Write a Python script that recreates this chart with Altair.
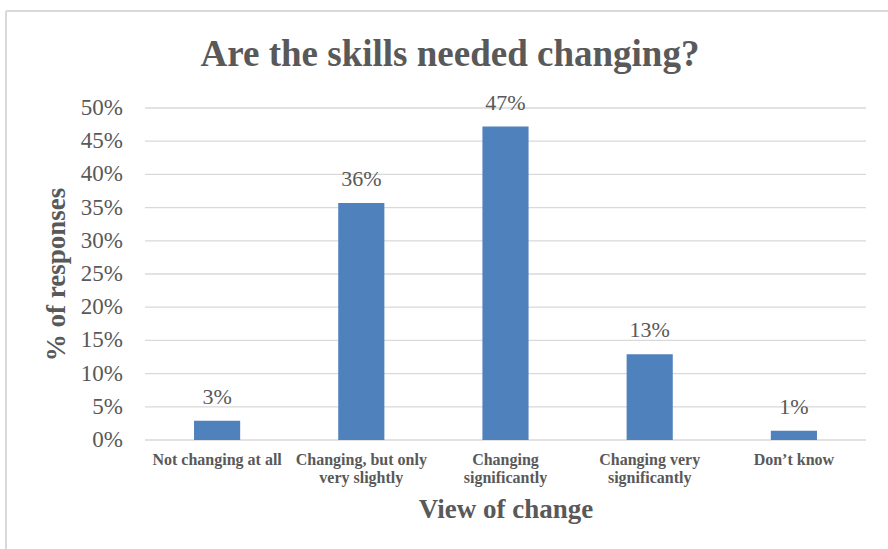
import altair as alt
import pandas as pd

categories = ["Not changing at all", "Changing, but only\nvery slightly", "Changing\nsignificantly",
              "Changing very\nsignificantly", "Don\u2019t know"]
values = [2.9, 35.7, 47.2, 12.9, 1.4]
labels = ["3%", "36%", "47%", "13%", "1%"]
tick_values = [0, 5, 10, 15, 20, 25, 30, 35, 40, 45, 50]
tick_labels = ["0%", "5%", "10%", "15%", "20%", "25%", "30%", "35%", "40%", "45%", "50%"]
title_text = ["Are the skills needed changing?"]

df = pd.DataFrame({"cat": categories, "val": values, "lab": labels})
ticks_df = pd.DataFrame({"val": tick_values, "tl": tick_labels})
FONT = "Liberation Serif"
GRAY = "#595959"

x = alt.X("cat:N", sort=categories,
          scale=alt.Scale(paddingInner=0.68, paddingOuter=0.34),
          axis=alt.Axis(title="View of change", labelAngle=0, labelExpr="split(datum.label, '\\n')",
                        labelFont=FONT, labelFontSize=16, labelFontWeight="bold", labelColor=GRAY,
                        labelPadding=11, labelLineHeight=18, ticks=False, domain=False,
                        labelOverlap=False, labelLimit=300,
                        titleFont=FONT, titleFontSize=27, titleFontWeight="bold", titleColor=GRAY,
                        titlePadding=11, labelBaseline="top"))
yaxis = alt.Axis(title="% of responses", labels=False, grid=False, ticks=False, domain=False,
                 titleFont=FONT, titleFontSize=27, titleFontWeight="bold", titleColor=GRAY,
                 titlePadding=75)
y = alt.Y("val:Q", scale=alt.Scale(domain=[0, 50]), axis=yaxis)

grid = alt.Chart(ticks_df).mark_rule(color="#D9D9D9", strokeWidth=1.3).encode(
    y=y, x=alt.value(0), x2=alt.value(721))
tick_text = alt.Chart(ticks_df).mark_text(font=FONT, fontSize=23, color=GRAY, align="right",
                                          baseline="middle").encode(
    y=y, x=alt.value(-22), text="tl:N")

bars = alt.Chart(df).mark_bar(color="#4F81BD").encode(x=x, y=y)
text = alt.Chart(df).mark_text(font=FONT, fontSize=22, color=GRAY, baseline="alphabetic", dy=-17).encode(
    x=x, y=y, text="lab:N")

title = alt.Chart(pd.DataFrame({"t": title_text})).mark_text(
    font=FONT, fontSize=37, fontWeight="bold", color=GRAY, baseline="alphabetic", align="center").encode(
    x=alt.value(305), y=alt.value(-42), text="t:N")

border = alt.Chart(df).mark_rule(color="#D9D9D9", strokeWidth=1.5).encode(
    x=alt.value(-139), x2=alt.value(760), y=alt.value(-97))
border2 = alt.Chart(df).mark_rule(color="#D9D9D9", strokeWidth=1.5).encode(
    x=alt.value(-139), y=alt.value(-97), y2=alt.value(460))

chart = alt.layer(border, border2, grid, tick_text, bars, text, title).properties(
    width=721, height=332,
    autosize=alt.AutoSizeParams(type="none"),
    padding={"left": 145, "top": 108, "right": 22, "bottom": 109},
).configure(font=FONT, view=alt.ViewConfig(stroke=None))

chart.save("out.html", embed_options={"renderer": "svg", "actions": False})
